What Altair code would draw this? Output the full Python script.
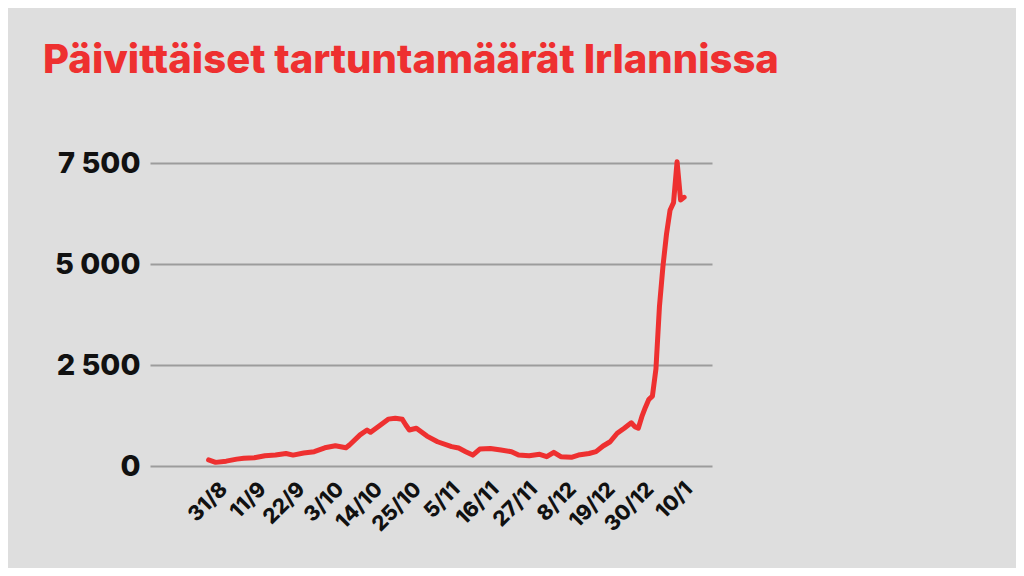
import altair as alt
import pandas as pd

# --- data ---
DATES = [
    "2020-08-26", "2020-08-28", "2020-08-31", "2020-09-03", "2020-09-05",
    "2020-09-08", "2020-09-11", "2020-09-14", "2020-09-17", "2020-09-19",
    "2020-09-22", "2020-09-25", "2020-09-28", "2020-10-01", "2020-10-04",
    "2020-10-05", "2020-10-08", "2020-10-10", "2020-10-11", "2020-10-14",
    "2020-10-16", "2020-10-18", "2020-10-20", "2020-10-21", "2020-10-22",
    "2020-10-24", "2020-10-27", "2020-10-30", "2020-11-03", "2020-11-05",
    "2020-11-07", "2020-11-09", "2020-11-11", "2020-11-14", "2020-11-17",
    "2020-11-20", "2020-11-22", "2020-11-25", "2020-11-28", "2020-11-30",
    "2020-12-02", "2020-12-04", "2020-12-07", "2020-12-09", "2020-12-12",
    "2020-12-14", "2020-12-16", "2020-12-18", "2020-12-20", "2020-12-22",
    "2020-12-24", "2020-12-25", "2020-12-26", "2020-12-27", "2020-12-28",
    "2020-12-29", "2020-12-30", "2020-12-31", "2021-01-01", "2021-01-02",
    "2021-01-03", "2021-01-04", "2021-01-05", "2021-01-06", "2021-01-07",
    "2021-01-08",
]
CASES = [
    150, 90, 120, 170, 190,
    205, 255, 270, 310, 270,
    320, 355, 450, 500, 450,
    520, 770, 890, 835, 1030,
    1160, 1180, 1155, 1015, 890,
    935, 740, 600, 480, 445,
    355, 270, 420, 435, 395,
    355, 270, 255, 290, 230,
    340, 230, 215, 270, 310,
    355, 495, 600, 810, 935,
    1070, 975, 935, 1220, 1450,
    1650, 1730, 2400, 3950, 4950,
    5740, 6330, 6520, 7530, 6585,
    6650,
]
TICK_DATES = [
    "2020-08-31", "2020-09-11", "2020-09-22", "2020-10-03", "2020-10-14",
    "2020-10-25", "2020-11-05", "2020-11-16", "2020-11-27", "2020-12-08",
    "2020-12-19", "2020-12-30", "2021-01-10",
]
Y_TICKS = [0, 2500, 5000, 7500]
TITLE = "Päivittäiset tartuntamäärät Irlannissa"

df = pd.DataFrame({"date": DATES, "cases": CASES})


def dt(s, h=0):
    y, m, d = (int(p) for p in s.split("-"))
    return alt.DateTime(year=y, month=m, date=d, hours=h, utc=True)


tick_values = [dt(s) for s in TICK_DATES]

FONT = "Inter"
RED = "#ee3030"

chart = (
    alt.Chart(df)
    .mark_line(color=RED, strokeWidth=5, strokeJoin="round", strokeCap="round")
    .encode(
        x=alt.X(
            "date:T",
            scale=alt.Scale(type="utc", domain=[dt("2020-08-09", 9), dt("2021-01-15", 22)]),
            axis=alt.Axis(
                values=tick_values,
                labelExpr="utcFormat(datum.value, '%-d/%-m')",
                labelAngle=-45,
                labelAlign="right",
                labelBaseline="top",
                labelPadding=12,
                labelOffset=-10,
                labelFont=FONT,
                labelFontSize=21,
                labelFontWeight=800,
                labelColor="#111111",
                labelOverlap=False,
                grid=False,
                domain=False,
                ticks=False,
                title=None,
            ),
        ),
        y=alt.Y(
            "cases:Q",
            scale=alt.Scale(domain=[0, 7500], nice=False),
            axis=alt.Axis(
                values=Y_TICKS,
                labelExpr="replace(format(datum.value, ','), ',', ' ')",
                labelFont=FONT,
                labelFontSize=29,
                labelFontWeight=800,
                labelColor="#111111",
                labelPadding=10,
                grid=True,
                gridColor="#9c9c9c",
                gridWidth=2,
                domain=False,
                ticks=False,
                title=None,
            ),
        ),
    )
    .properties(
        width=562,
        height=303,
        background="#dedede",
        padding={"left": 142, "top": 155, "right": 304, "bottom": 102},
        autosize=alt.AutoSizeParams(type="none"),
        title=alt.TitleParams(
            TITLE,
            anchor="start",
            frame="group",
            dx=-107,
            offset=36,
            baseline="alphabetic",
            font="Inter",
            fontSize=40,
            fontWeight=800,
            color=RED,
        ),
    )
    .configure_view(stroke=None)
)

chart.save("out.html", embed_options={"renderer": "svg", "actions": False})
